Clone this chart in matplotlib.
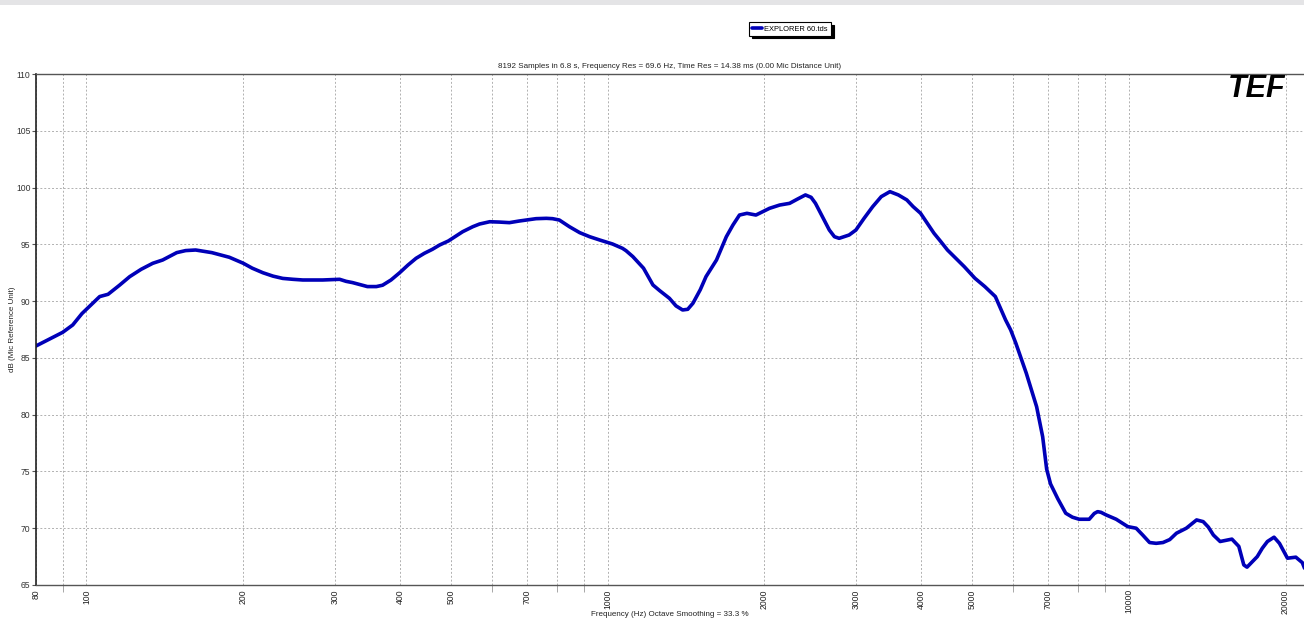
import matplotlib
matplotlib.use('Agg')
import matplotlib.pyplot as plt
from matplotlib.patches import Rectangle
from matplotlib.ticker import FixedLocator, NullFormatter

plt.rcParams['font.family'] = ['Liberation Sans', 'DejaVu Sans']

# frequency response (Hz, dB)
freq = [80, 90, 94.1, 98, 102, 106, 110, 115.7, 121, 127.3, 134, 140, 149, 155,
        162, 174, 188, 200, 208, 218, 228, 238, 249, 260, 284, 306, 315, 324, 346,
        360, 370, 384, 399, 414, 429, 445, 461, 476, 495, 527, 551, 568, 594, 620,
        648, 676, 699, 729, 763, 784, 808, 845, 884, 924, 966, 1022, 1068, 1085,
        1118, 1172, 1222, 1259, 1314, 1353, 1393, 1425, 1458, 1506, 1545, 1618,
        1690, 1740, 1791, 1851, 1926, 2045, 2139, 2235, 2311, 2397, 2458, 2506,
        2584, 2664, 2725, 2782, 2907, 2996, 3106, 3227, 3351, 3482, 3614, 3752,
        3858, 3986, 4230, 4360, 4490, 4660, 4837, 5070, 5296, 5548, 5805, 5937,
        6074, 6361, 6658, 6838, 6960, 7080, 7310, 7572, 7800, 8036, 8400, 8590, 8718,
        8850, 9052, 9463, 9961, 10336, 10640, 10968, 11290, 11637, 11990, 12350,
        12900, 13500, 13900, 14220, 14540, 14980, 15780, 16270, 16630, 16870,
        17650, 18050, 18460, 19010, 19470, 20170, 20930, 21540, 21750]
db = [86.05, 87.25, 87.9, 88.9, 89.66, 90.4, 90.6, 91.4, 92.15, 92.8, 93.33,
      93.62, 94.27, 94.45, 94.5, 94.27, 93.86, 93.33, 92.9, 92.5, 92.2, 92.0,
      91.92, 91.86, 91.86, 91.92, 91.74, 91.63, 91.28, 91.28, 91.4, 91.86, 92.5,
      93.18, 93.77, 94.21, 94.56, 94.94, 95.3, 96.11, 96.55, 96.79, 96.99, 96.96,
      96.91, 97.05, 97.14, 97.26, 97.29, 97.26, 97.14, 96.55, 96.03, 95.67, 95.38,
      95.03, 94.65, 94.44, 93.92, 92.9, 91.42, 90.92, 90.25, 89.58, 89.22, 89.28,
      89.81, 91.0, 92.16, 93.62, 95.67, 96.7, 97.58, 97.73, 97.58, 98.17, 98.46,
      98.61, 98.97, 99.35, 99.14, 98.61, 97.44, 96.26, 95.67, 95.53, 95.82, 96.26,
      97.29, 98.32, 99.2, 99.64, 99.35, 98.91, 98.32, 97.74, 95.98, 95.24, 94.5,
      93.77, 93.03, 92.01, 91.28, 90.4, 88.34, 87.46, 86.29, 83.65, 80.7, 78.06,
      75.2, 73.9, 72.6, 71.32, 70.97, 70.79, 70.79, 71.3, 71.46, 71.4, 71.17, 70.79,
      70.14, 70.0, 69.4, 68.74, 68.67, 68.74, 69.0, 69.56, 70.0, 70.73, 70.58,
      70.1, 69.4, 68.83, 69.04, 68.4, 66.77, 66.57, 67.5, 68.24, 68.83, 69.21,
      68.67, 67.36, 67.45, 66.97, 66.48]

x_major = [80, 100, 200, 300, 400, 500, 700, 1000, 2000, 3000, 4000, 5000, 7000, 10000, 20000]
x_minor = [90, 600, 800, 900, 6000, 8000, 9000]
y_ticks = [65, 70, 75, 80, 85, 90, 95, 100, 105, 110]

fig = plt.figure(figsize=(13.04, 6.22), dpi=100)
fig.patches.append(Rectangle((0, 1 - 5 / 622), 1, 5 / 622, transform=fig.transFigure,
                             facecolor='#e4e4e6', edgecolor='none'))

ax = fig.add_axes([36 / 1304, 1 - 585 / 622, 1 - 36 / 1304, 511 / 622])
ax.plot(freq, db, color='#0000b8', linewidth=2.6, label='EXPLORER 60.tds',
        solid_capstyle='round', solid_joinstyle='round')

ax.set_xscale('log')
ax.set_xlim(80, 21700)
ax.set_ylim(65, 110)

ax.xaxis.set_major_locator(FixedLocator(x_major))
ax.xaxis.set_minor_locator(FixedLocator(x_minor))
ax.xaxis.set_minor_formatter(NullFormatter())
ax.set_xticklabels([str(v) for v in x_major], rotation=90)
ax.set_yticks(y_ticks)

ax.grid(True, which='both', color='#b0b0b0', linestyle=(0, (2, 2)), linewidth=0.7)
ax.tick_params(axis='x', which='major', length=0, labelsize=6.2, labelcolor='#222222', pad=3)
ax.tick_params(axis='x', which='minor', length=5, color='#999999')
ax.tick_params(axis='y', length=3, color='#555555', labelsize=6.2, labelcolor='#333333', pad=1)

for side in ['top', 'bottom']:
    ax.spines[side].set_linestyle((0, (2, 1)))
    ax.spines[side].set_color('#555555')
    ax.spines[side].set_linewidth(1.0)
ax.spines['right'].set_visible(False)
ax.spines['left'].set_color('#222222')
ax.spines['left'].set_linewidth(1.2)

ax.set_title('8192 Samples in 6.8 s, Frequency Res = 69.6 Hz, Time Res = 14.38 ms (0.00 Mic Distance Unit)',
             fontsize=5.8, color='#222222', pad=4)
fig.text(670 / 1304, 1 - 615 / 622, 'Frequency (Hz) Octave Smoothing = 33.3 %',
         fontsize=5.8, color='#222222', ha='center', va='center')
ax.set_ylabel('dB (Mic Reference Unit)', fontsize=5.8, color='#222222', labelpad=0)

leg = ax.legend(loc='center', bbox_to_anchor=(790 / 1304, 1 - 29 / 622),
                bbox_transform=fig.transFigure, fontsize=5.4, frameon=True,
                fancybox=False, shadow={'color': 'black', 'alpha': 1},
                handlelength=1.3, handletextpad=0.3, borderpad=0.4, borderaxespad=0)
leg.get_frame().set_edgecolor('black')
leg.get_frame().set_linewidth(0.8)

fig.text(1257 / 1304, 1 - 89 / 622, 'TEF', fontsize=22, fontweight='bold', style='italic',
         ha='center', va='center', color='black')

fig.savefig('out.png', dpi=100)
